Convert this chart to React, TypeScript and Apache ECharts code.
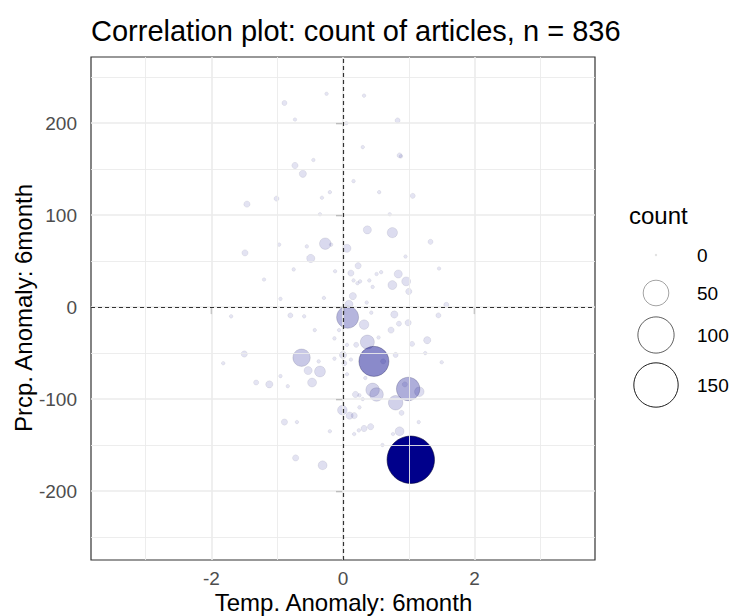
import React, { useEffect, useRef } from "react";
import * as echarts from "echarts";

// ---- data ----
const tempAnom = [
  -0.89, -0.73, 0.32, 0.83, -0.25, 0.30, 0.86, 0.88, -0.73, -0.61, 0.16, -1.46, -1.01, -0.20, -0.32, 1.06,
  -0.35, 0.71, 0.37, 0.75, -0.27, 0.06, -0.18, -0.97, -0.55, -1.49, -0.49, 1.33, 1.46, -0.75, -0.12, 0.23,
  0.12, 0.51, 0.58, 0.84, 0.96, 0.75, 1.00, 0.16, 0.26, 0.22, 0.40, 0.45, 0.15, -0.95, -0.29, 0.36, 1.57, 0.09,
  0.07, -0.80, -0.59, 0.32, 0.43, 0.78, 0.85, 0.99, 1.45, -0.43, -0.06, 0.73, 0.37, 0.54, 0.20, 0.06, -0.13,
  1.05, 1.28, 0.47, 0.61, 0.80, -0.63, -1.50, -1.82, -0.37, -0.13, 0.00, 0.02, 0.12, -0.53, -0.35, -0.47,
  -1.32, -1.12, -0.84, 0.06, 0.34, 0.99, 0.94, 1.16, 0.45, 0.51, 0.19, 0.25, 0.80, 0.89, -0.01, 0.10, 0.17,
  0.25, -0.89, 0.42, 0.32, 0.24, 0.17, 0.86, 0.76, -0.72, -0.31, 1.03,
  -0.45, 0.05, 0.55, -1.20, 1.25, -0.95, 0.60, -1.70, 1.50, 0.30, -0.20, 0.95, -0.70, 1.15
];
const prcpAnom = [
  222, 204, 230, 203, 232, 174, 165, 164, 154, 145, 137, 112, 118, 125, 119, 121,
  101, 101, 84, 81, 69, 64, 68, 68, 66, 59, 53, 71, 42, 41, 39, 45,
  37, 36, 38, 36, 28, 24, 17, 29, 28, 26, 29, 22, 12, 9, 10, 5, 2.5, 3,
  -11, -9, -10, -19, -6, -8, -18, -17, -9, -25, -25, -25, -38, -33, -41, -41, -34,
  -40, -36, -59, -59, -52, -55, -51, -61, -59, -56, -52, -61, -57, -69, -70, -82,
  -82, -84, -86, -73, -77, -89, -84, -92, -90, -95, -95, -96, -104, -115, -112, -118, -118,
  -109, -125, -130, -132, -134, -138, -135, -138, -164, -172, -166,
  160, 200, 125, 30, -50, -75, -150, -10, -60, -100, -135, 55, -125, -125
];
const counts = [
  2, 1, 1, 2, 1, 1, 2, 1, 3, 4, 1, 3, 2, 1, 1, 2,
  1, 1, 5, 8, 10, 5, 1, 1, 1, 3, 5, 2, 1, 1, 1, 3,
  3, 1, 1, 5, 6, 6, 3, 1, 1, 1, 1, 1, 4, 1, 1, 1, 2, 5,
  37, 2, 1, 7, 1, 4, 2, 3, 2, 1, 1, 3, 15, 1, 2, 1, 1,
  2, 4, 69, 2, 2, 23, 3, 1, 1, 1, 4, 2, 1, 5, 9, 6,
  2, 4, 1, 1, 1, 42, 2, 7, 14, 14, 3, 1, 16, 2, 7, 4, 3,
  1, 3, 3, 3, 1, 1, 6, 1, 3, 6, 171,
  1, 1, 1, 1, 1, 1, 1, 1, 1, 1, 1, 1, 1, 1
];
const xMajorTicks = [-2, 0, 2];
const xMinorTicks = [-3, -1, 1, 3];
const yMajorTicks = [-200, -100, 0, 100, 200];
const yMinorTicks = [-250, -150, -50, 50, 150, 250];
const legendCounts = [0, 50, 100, 150];

const titleText = "Correlation plot: count of articles, n = 836";
const xTitle = "Temp. Anomaly: 6month";
const yTitle = "Prcp. Anomaly: 6month";
const legendTitle = "count";

// ---- layout constants ----
const W = 731;
const H = 616;
const X_MIN = -3.83;
const X_MAX = 3.83;
const Y_MIN = -275;
const Y_MAX = 272;
const GRID = { left: 91, right: 136, top: 57, bottom: 56 };
const FONT = "'Liberation Sans', Arial, Helvetica, sans-serif";
const NAVY = "#00008B";
const R_SCALE = 1.81;
const LEGEND_X = 656;
const LEGEND_Y = [255, 293, 335, 385];
const BASE = 24;
const TICK_FS = 19;

const cMin = Math.min(...counts);
const cMax = Math.max(...counts);
const radius = (c: number) => R_SCALE * Math.sqrt(c);
const alphaOf = (c: number) => Math.max(0.08, 0.1 + (0.9 * (c - cMin)) / (cMax - cMin));

export default function App() {
  const ref = useRef<HTMLDivElement>(null);

  useEffect(() => {
    if (!ref.current) return;
    const chart = echarts.init(ref.current, null, { renderer: "svg" });

    const pts = tempAnom
      .map((x, i) => ({ x, y: prcpAnom[i], c: counts[i] }))
      .sort((a, b) => a.c - b.c)
      .map((p) => ({
        value: [p.x, p.y, p.c],
        itemStyle: { opacity: alphaOf(p.c) },
      }));

    const gridLines = [
      ...xMinorTicks.map((v) => ({ xAxis: v, lineStyle: { width: 0.9 } })),
      ...xMajorTicks.map((v) => ({ xAxis: v, lineStyle: { width: 1.6 } })),
      ...yMinorTicks.map((v) => ({ yAxis: v, lineStyle: { width: 0.9 } })),
      ...yMajorTicks.map((v) => ({ yAxis: v, lineStyle: { width: 1.6 } })),
    ];

    const legendGraphics: any[] = [
      {
        type: "text",
        x: 629,
        y: 215,
        style: { text: legendTitle, fontSize: BASE, fontFamily: FONT, fill: "#000", textVerticalAlign: "middle" },
      },
    ];
    legendCounts.forEach((c, i) => {
      const r = Math.max(1.2, radius(c));
      legendGraphics.push({
        type: "circle",
        shape: { cx: LEGEND_X, cy: LEGEND_Y[i], r },
        style:
          c === 0
            ? { fill: "rgba(0,0,0,0.12)", stroke: "none" }
            : { fill: "none", stroke: `rgba(0,0,0,${alphaOf(c).toFixed(3)})`, lineWidth: 1 },
      });
      legendGraphics.push({
        type: "text",
        x: 697,
        y: LEGEND_Y[i],
        style: { text: String(c), fontSize: TICK_FS, fontFamily: FONT, fill: "#000", textVerticalAlign: "middle" },
      });
    });

    chart.setOption({
      animation: false,
      backgroundColor: "#ffffff",
      textStyle: { fontFamily: FONT },
      grid: {
        ...GRID,
        show: true,
        borderColor: "#333333",
        borderWidth: 1.2,
        backgroundColor: "#ffffff",
      },
      xAxis: {
        type: "value",
        min: X_MIN,
        max: X_MAX,
        splitLine: { show: false },
        axisLine: { show: false },
        axisTick: { show: true, length: 7, customValues: xMajorTicks, lineStyle: { color: "#333333", width: 1.2 } },
        axisLabel: {
          customValues: xMajorTicks,
          color: "#4d4d4d",
          fontSize: TICK_FS,
          margin: 9,
          fontFamily: FONT,
        },
      },
      yAxis: {
        type: "value",
        min: Y_MIN,
        max: Y_MAX,
        splitLine: { show: false },
        axisLine: { show: false },
        axisTick: { show: true, length: 7, customValues: yMajorTicks, lineStyle: { color: "#333333", width: 1.2 } },
        axisLabel: {
          customValues: yMajorTicks,
          color: "#4d4d4d",
          fontSize: TICK_FS,
          margin: 14,
          fontFamily: FONT,
        },
      },
      graphic: [
        {
          type: "text",
          x: 91,
          y: 31,
          style: { text: titleText, fontSize: 29, fontFamily: FONT, fill: "#000", textVerticalAlign: "middle" },
        },
        {
          type: "text",
          x: 343.5,
          y: 602,
          style: {
            text: xTitle,
            fontSize: BASE,
            fontFamily: FONT,
            fill: "#000",
            textAlign: "center",
            textVerticalAlign: "middle",
          },
        },
        {
          type: "text",
          x: 23,
          y: 308,
          rotation: Math.PI / 2,
          style: {
            text: yTitle,
            fontSize: BASE,
            fontFamily: FONT,
            fill: "#000",
            textAlign: "center",
            textVerticalAlign: "middle",
          },
        },
        ...legendGraphics,
      ],
      series: [
        {
          type: "scatter",
          data: [],
          z: 1,
          silent: true,
          markLine: {
            silent: true,
            symbol: ["none", "none"],
            label: { show: false },
            lineStyle: { color: "#ebebeb", type: "solid" },
            data: gridLines,
          },
        },
        {
          type: "scatter",
          data: [],
          z: 2,
          silent: true,
          markLine: {
            silent: true,
            symbol: ["none", "none"],
            label: { show: false },
            lineStyle: { color: "#333333", type: [4, 3], width: 1.2 },
            data: [{ xAxis: 0 }, { yAxis: 0 }],
          },
        },
        {
          type: "scatter",
          z: 3,
          data: pts,
          symbol: "circle",
          symbolSize: (v: number[]) => 2 * radius(v[2]),
          itemStyle: { color: NAVY, borderColor: "#000033", borderWidth: 0.6 },
        },
      ],
    });

    return () => chart.dispose();
  }, []);

  return (
    <div
      ref={ref}
      style={{ position: "fixed", left: 0, top: 0, width: W, height: H, background: "#fff" }}
    />
  );
}
